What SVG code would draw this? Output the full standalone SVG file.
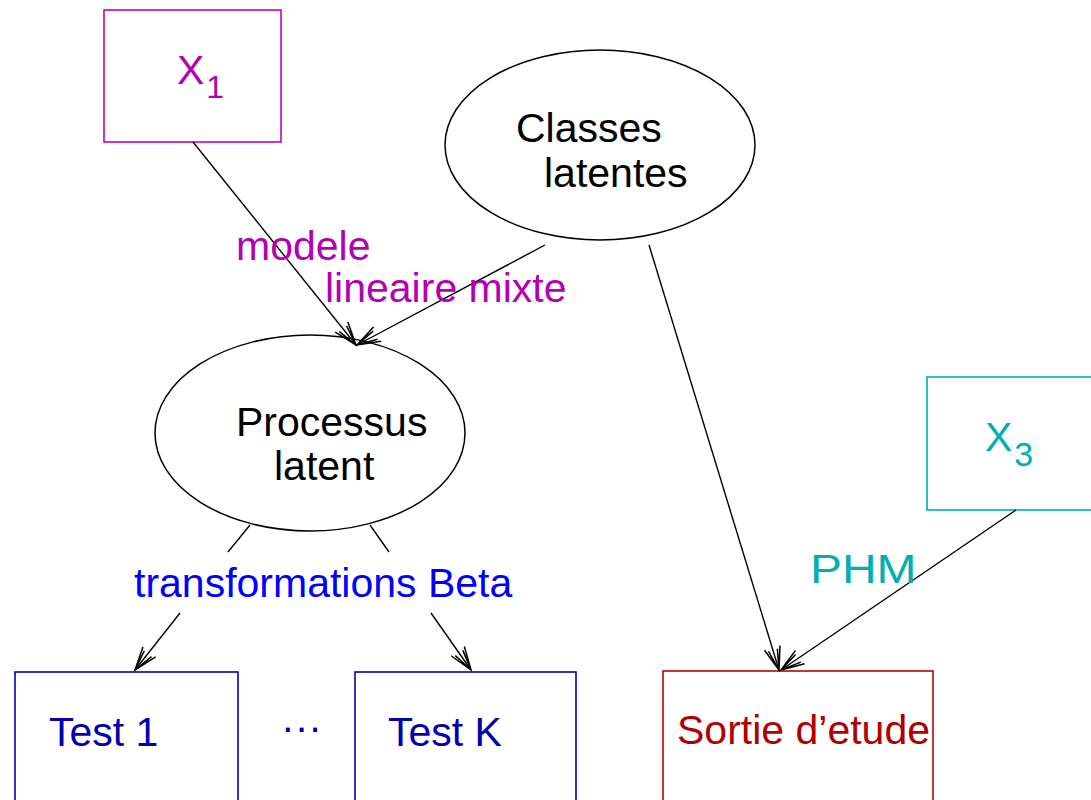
<svg xmlns="http://www.w3.org/2000/svg" width="1091" height="800" viewBox="0 0 1091 800">
<style>
text{font-family:"Liberation Sans",Arial,sans-serif;font-size:41px}
.ell{fill:#fff;stroke:#000;stroke-width:1.5}
.box{fill:#fff;stroke-width:1.6}
.conn line{stroke:#000;stroke-width:1.4}
.mag{fill:#b400b4}
.teal{fill:#00b0b0}
</style>
<defs>
<marker id="ah" markerUnits="userSpaceOnUse" markerWidth="30" markerHeight="30" viewBox="-22 -12 26 24" refX="0" refY="0" orient="auto">
<path d="M-20,-7 L0,0 L-20,7 M-18,-4 L0,0 L-18,4" fill="none" stroke="#000" stroke-width="1.3"/>
</marker>
</defs>
<rect width="1091" height="800" fill="#fff"/>
<g id="x1">
<rect class="box" x="104" y="10" width="177" height="132" stroke="#c000c0"/>
<text x="177" y="84" class="mag">X<tspan font-size="32" dy="14" dx="2">1</tspan></text>
</g>
<g id="classes">
<ellipse class="ell" cx="600" cy="145" rx="155" ry="95"/>
<text x="516" y="142">Classes</text>
<text x="544" y="187">latentes</text>
</g>
<g id="processus">
<ellipse class="ell" cx="310" cy="433" rx="155" ry="98"/>
<text x="236" y="436">Processus</text>
<text x="274" y="480">latent</text>
</g>
<g id="x3">
<rect class="box" x="927" y="377" width="180" height="133" stroke="#00b0b0"/>
<text x="985" y="451" class="teal">X<tspan font-size="34" dy="15" dx="2">3</tspan></text>
</g>
<g id="test1">
<rect class="box" x="15" y="672" width="223" height="140" stroke="#0000c0"/>
<text x="49" y="746" font-size="42" fill="#0000b0">Test 1</text>
</g>
<g id="testk">
<rect class="box" x="355" y="672" width="221" height="140" stroke="#0000c0"/>
<text x="388" y="746" font-size="42" fill="#0000b0">Test K</text>
</g>
<g id="dots">
<text x="281" y="741" font-size="30" fill="#0000b0">···</text>
</g>
<g id="sortie">
<rect class="box" x="663" y="671" width="270" height="140" stroke="#c00000"/>
<text x="677" y="744" fill="#b00000">Sortie d’etude</text>
</g>
<g class="conn" id="connectors">
<line x1="193" y1="142" x2="356" y2="345" marker-end="url(#ah)"/>
<line x1="545" y1="245" x2="357" y2="345" marker-end="url(#ah)"/>
<line x1="250" y1="525" x2="228" y2="552"/>
<line x1="180" y1="613" x2="135" y2="670" marker-end="url(#ah)"/>
<line x1="370" y1="525" x2="389" y2="552"/>
<line x1="431" y1="613" x2="471" y2="670" marker-end="url(#ah)"/>
<line x1="649" y1="245" x2="779" y2="670" marker-end="url(#ah)"/>
<line x1="1016" y1="510" x2="781" y2="670" marker-end="url(#ah)"/>
</g>
<g id="labels">
<text x="236" y="260" class="mag">modele</text>
<text x="325" y="302" class="mag">lineaire mixte</text>
<text x="134" y="597" fill="#0000ff">transformations Beta</text>
<text transform="translate(810,583) scale(1.17,1)" font-size="50" class="teal">PHM</text>
</g>
</svg>
